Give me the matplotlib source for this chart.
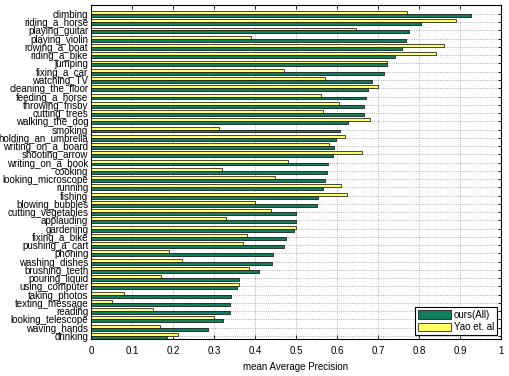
import numpy as np
import matplotlib
matplotlib.use('Agg')
import matplotlib.pyplot as plt

plt.rcParams['font.family'] = ['Liberation Sans', 'DejaVu Sans']

actions = ['climbing', 'riding_a_horse', 'playing_guitar', 'playing_violin', 'rowing_a_boat',
           'riding_a_bike', 'jumping', 'fixing_a_car', 'watching_TV', 'cleaning_the_floor',
           'feeding_a_horse', 'throwing_frisby', 'cutting_trees', 'walking_the_dog', 'smoking',
           'holding_an_umbrella', 'writing_on_a_board', 'shooting_arrow', 'writing_on_a_book',
           'cooking', 'looking_microscope', 'running', 'fishing', 'blowing_bubbles',
           'cutting_vegetables', 'applauding', 'gardening', 'fixing_a_bike', 'pushing_a_cart',
           'phoning', 'washing_dishes', 'brushing_teeth', 'pouring_liquid', 'using_computer',
           'taking_photos', 'texting_message', 'reading', 'looking_telescope', 'waving_hands',
           'drinking']

ours = [0.928, 0.805, 0.776, 0.768, 0.758, 0.742, 0.721, 0.716, 0.686, 0.676,
        0.671, 0.666, 0.665, 0.628, 0.607, 0.598, 0.593, 0.590, 0.578, 0.576,
        0.572, 0.567, 0.553, 0.552, 0.500, 0.499, 0.494, 0.476, 0.470, 0.444,
        0.441, 0.410, 0.361, 0.355, 0.341, 0.339, 0.338, 0.322, 0.286, 0.184]

yao = [0.772, 0.891, 0.646, 0.391, 0.862, 0.841, 0.721, 0.471, 0.572, 0.701,
       0.561, 0.606, 0.565, 0.680, 0.311, 0.620, 0.580, 0.661, 0.481, 0.320,
       0.450, 0.611, 0.625, 0.401, 0.440, 0.330, 0.500, 0.380, 0.371, 0.191,
       0.221, 0.386, 0.170, 0.360, 0.080, 0.050, 0.150, 0.300, 0.169, 0.211]

GREEN = '#137e5e'
YELLOW = '#ffff66'

fig = plt.figure(figsize=(5.09, 3.76), dpi=100)
ax = fig.add_axes([0.179, 0.098, 0.805, 0.889])

y = np.arange(len(actions))
h = 0.36
ax.barh(y + h / 2, ours, height=h, color=GREEN, edgecolor='black', linewidth=0.5,
        label='ours(All)', zorder=3)
ax.barh(y - h / 2, yao, height=h, color=YELLOW, edgecolor='black', linewidth=0.5,
        label='Yao et. al', zorder=3)

ax.set_xlim(0, 1)
ax.set_ylim(len(actions) - 1 + 0.4, -1.1)
ax.set_xticks(np.arange(0, 1.01, 0.1))
ax.set_xticklabels(['0'] + [f'{v:.1f}' for v in np.arange(0.1, 0.95, 0.1)] + ['1'])
ax.set_yticks(y)
ax.set_yticklabels(actions)
ax.tick_params(axis='both', direction='in', top=True, right=True, labelsize=7,
               length=3, width=0.6, pad=2)
ax.tick_params(axis='x', pad=5)
ax.tick_params(axis='y', length=2)
ax.grid(True, linestyle=':', color='#999999', linewidth=0.6, zorder=0)
ax.set_axisbelow(True)
for s in ax.spines.values():
    s.set_linewidth(0.8)

ax.set_xlabel('mean Average Precision', fontsize=7, labelpad=4)
leg = ax.legend(loc='lower right', fontsize=7, fancybox=False, edgecolor='black',
                framealpha=1, handlelength=3.4, handleheight=1.0, borderpad=0.3,
                labelspacing=0.25, handletextpad=0.3, borderaxespad=0.4)
leg.get_frame().set_linewidth(0.8)

fig.savefig('out.png', dpi=100, facecolor='white')
